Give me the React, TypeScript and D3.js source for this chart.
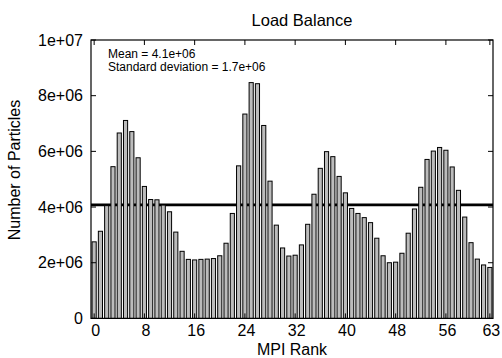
import React from "react";
import * as d3 from "d3";

const ranks: number[] = d3.range(64);
const particles: number[] = [
  2.75, 3.13, 4.05, 5.45, 6.66, 7.11, 6.71, 5.77, 4.74, 4.27,
  4.26, 4.07, 3.83, 3.10, 2.41, 2.12, 2.10, 2.12, 2.13, 2.15,
  2.25, 2.70, 3.77, 5.48, 7.34, 8.47, 8.43, 6.93, 4.93, 3.35,
  2.53, 2.24, 2.27, 2.64, 3.38, 4.46, 5.39, 5.99, 5.81, 5.10,
  4.51, 3.95, 3.77, 3.62, 3.44, 2.88, 2.25, 2.00, 2.02, 2.34,
  3.06, 3.93, 4.71, 5.71, 6.01, 6.14, 6.04, 5.44, 4.60, 3.64,
  2.72, 2.13, 1.92, 1.83,
].map((v) => v * 1e6);

const xTickValues: number[] = [0, 8, 16, 24, 32, 40, 48, 56, 63];
const yTickValues: number[] = [0, 2e6, 4e6, 6e6, 8e6, 1e7];
const yTickLabels: string[] = ["0", "2e+06", "4e+06", "6e+06", "8e+06", "1e+07"];
const statLines: string[] = ["Mean = 4.1e+06", "Standard deviation = 1.7e+06"];

const W = 502;
const H = 358;
const L = 91, R = 493, T = 40, B = 318.4;
const FONT = "'Liberation Sans', Arial, Helvetica, sans-serif";

export default function App() {
  const x = d3.scaleLinear().domain([-0.5, 63.5]).range([L, R]);
  const y = d3.scaleLinear().domain([0, 1e7]).range([B, T]);
  const mean = d3.mean(particles) as number;
  const bw = 0.33;
  const tick = 5;

  return (
    <svg
      width={W}
      height={H}
      style={{ position: "absolute", left: 0, top: 0, background: "#fff" }}
      fontFamily={FONT}
    >
      <rect x={0} y={0} width={W} height={H} fill="#fff" />
      <text x={302} y={26} fontSize={16.5} textAnchor="middle">Load Balance</text>

      {/* mean line behind bars */}
      <line x1={L} x2={R} y1={y(mean)} y2={y(mean)} stroke="#000" strokeWidth={2.6} />

      {ranks.map((r, i) => (
        <rect
          key={r}
          x={x(r - bw)}
          y={y(particles[i])}
          width={x(r + bw) - x(r - bw)}
          height={B - y(particles[i])}
          fill="#bcbcbc"
          stroke="#000"
          strokeWidth={1}
        />
      ))}

      {/* frame */}
      <rect x={L} y={T} width={R - L} height={B - T} fill="none" stroke="#000" strokeWidth={1.2} />

      {/* y ticks */}
      {yTickValues.map((v, i) => (
        <g key={"y" + v}>
          <line x1={L} x2={L + tick} y1={y(v)} y2={y(v)} stroke="#000" strokeWidth={1} />
          <line x1={R} x2={R - tick} y1={y(v)} y2={y(v)} stroke="#000" strokeWidth={1} />
          <text x={83} y={y(v)} dy="0.36em" fontSize={16} textAnchor="end">{yTickLabels[i]}</text>
        </g>
      ))}

      {/* x ticks */}
      {xTickValues.map((v) => (
        <g key={"x" + v}>
          <line x1={x(v)} x2={x(v)} y1={B} y2={B - tick} stroke="#000" strokeWidth={1} />
          <line x1={x(v)} x2={x(v)} y1={T} y2={T + tick} stroke="#000" strokeWidth={1} />
          <text x={x(v) + 1.5} y={336} fontSize={16} textAnchor="middle">{v}</text>
        </g>
      ))}

      <text x={292} y={355} fontSize={16} textAnchor="middle">MPI Rank</text>
      <text
        transform={`translate(20,170) rotate(-90)`}
        fontSize={16}
        textAnchor="middle"
      >
        Number of Particles
      </text>

      {statLines.map((s, i) => (
        <text key={s} x={108} y={58 + i * 13} fontSize={12}>{s}</text>
      ))}
    </svg>
  );
}
